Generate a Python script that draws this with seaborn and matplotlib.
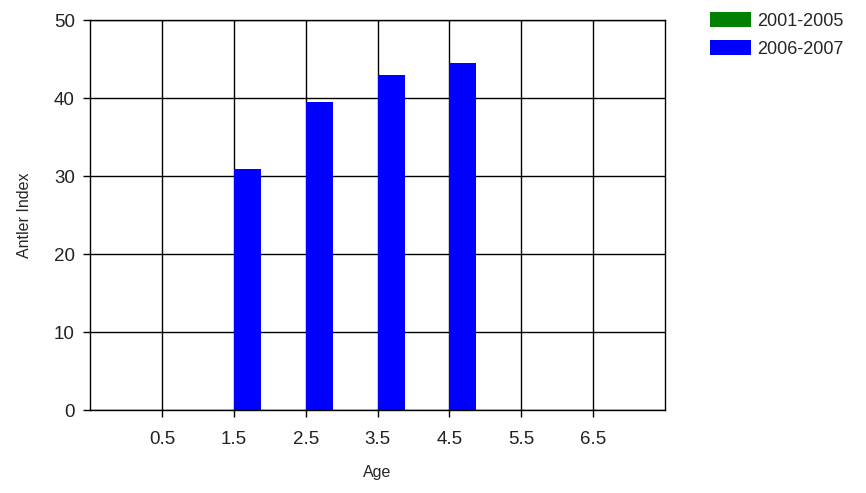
import matplotlib
matplotlib.use("Agg")
import matplotlib.pyplot as plt
import pandas as pd
import seaborn as sns

# values
ages = ["0.5", "1.5", "2.5", "3.5", "4.5", "5.5", "6.5"]
periods = ["2001-2005", "2006-2007"]
antler_2001_2005 = [0, 0, 0, 0, 0, 0, 0]
antler_2006_2007 = [0, 30.9, 39.5, 43.0, 44.5, 0, 0]

df = pd.DataFrame({
    "Age": ages * 2,
    "Period": [periods[0]] * len(ages) + [periods[1]] * len(ages),
    "Antler Index": antler_2001_2005 + antler_2006_2007,
})

sns.set_style("white")
plt.rcParams["font.family"] = ["Liberation Sans", "DejaVu Sans"]

fig = plt.figure(figsize=(8.66, 4.93), dpi=100)
ax = fig.add_axes([0.104, 0.168, 0.664, 0.791])

sns.barplot(data=df, x="Age", y="Antler Index", hue="Period",
            order=ages, hue_order=periods,
            palette={"2001-2005": "#008000", "2006-2007": "#0000ff"},
            width=0.75, linewidth=0, saturation=1, ax=ax)

ax.set_xlim(-1, len(ages))
ax.set_ylim(0, 50)
ax.set_yticks([0, 10, 20, 30, 40, 50])
ax.set_xticks(range(len(ages)))
ax.set_xticklabels(ages)
ax.grid(True, color="black", linewidth=1)
ax.set_axisbelow(True)
for s in ax.spines.values():
    s.set_color("black")
    s.set_linewidth(1)
ax.tick_params(axis="both", direction="out", length=5, width=1, color="black",
               labelsize=13.5, labelcolor="#222222", bottom=True, left=True)
ax.tick_params(axis="x", pad=10)
ax.tick_params(axis="y", pad=6)
ax.set_xlabel("Age", fontsize=11.5, labelpad=12)
ax.set_ylabel("Antler Index", fontsize=11.5, labelpad=16)

ax.legend(loc="upper left", bbox_to_anchor=(1.065, 1.04), frameon=False,
          fontsize=13, handlelength=2.3, handleheight=0.9,
          handletextpad=0.35, labelspacing=0.6, borderaxespad=0)

fig.savefig("out.png", dpi=100)
